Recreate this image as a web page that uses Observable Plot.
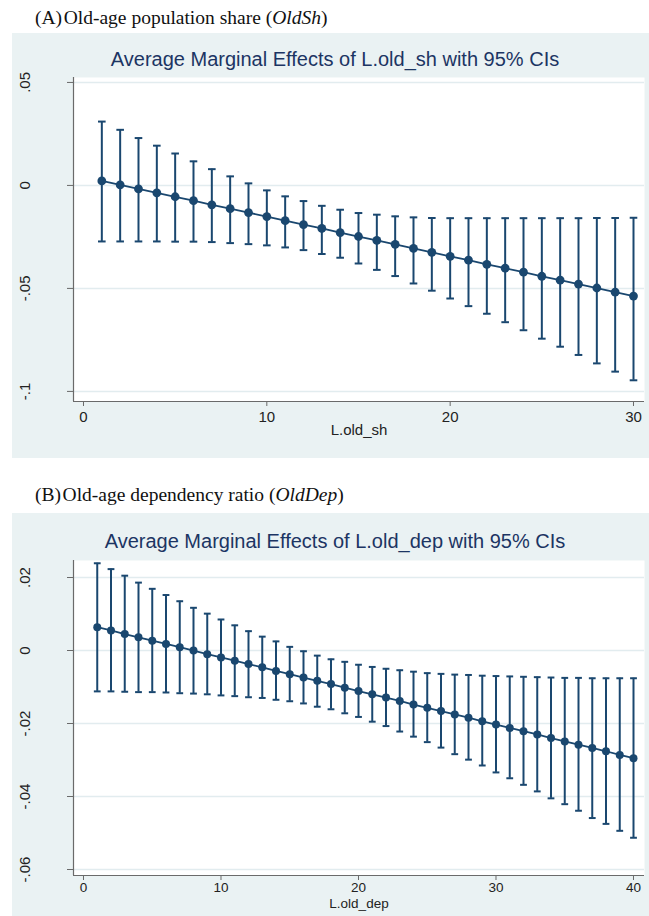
<!DOCTYPE html>
<html>
<head>
<meta charset="utf-8">
<script src="https://cdn.jsdelivr.net/npm/d3@7"></script>
<script src="https://cdn.jsdelivr.net/npm/@observablehq/plot@0.6"></script>
<style>
  html, body { margin: 0; padding: 0; background: #ffffff; }
  #page { position: relative; width: 649px; height: 916px; overflow: hidden; background: #ffffff; }
  .heading { position: absolute; font-family: "Liberation Serif", "Times New Roman", serif; font-size: 19.5px; line-height: 22px; color: #111; white-space: nowrap; }
  .panel { position: absolute; left: 12px; width: 637px; background: #eaf2f3; }
  .ptitle { position: absolute; left: 0; width: 646px; text-align: center; font-family: "Liberation Sans", Arial, sans-serif; font-size: 20px; line-height: 23px; color: #1c3563; white-space: nowrap; }
  .panel svg { position: absolute; left: 0; top: 0; }
</style>
</head>
<body>
<div id="page">
  <div class="heading" style="left:35px; top:7px;">(A)&#8202;Old-age population share (<i>OldSh</i>)</div>
  <div class="panel" id="panelA" style="top:33px; height:425px;">
    <div class="ptitle" style="top:15px;">Average Marginal Effects of L.old_sh with 95% CIs</div>
  </div>
  <div class="heading" style="left:35px; top:484px;">(B)&#8202;Old-age dependency ratio (<i>OldDep</i>)</div>
  <div class="panel" id="panelB" style="top:513px; height:403px;">
    <div class="ptitle" style="top:17px;">Average Marginal Effects of L.old_dep with 95% CIs</div>
  </div>
</div>
<script>
// ---------- Panel A data: L.old_sh ----------
const xA = [1,2,3,4,5,6,7,8,9,10,11,12,13,14,15,16,17,18,19,20,21,22,23,24,25,26,27,28,29,30];
const estA = [0.0022,0.0003,-0.0017,-0.0036,-0.0055,-0.0074,-0.0094,-0.0113,-0.0132,-0.0151,-0.0171,-0.0190,-0.0209,-0.0229,-0.0248,-0.0267,-0.0286,-0.0306,-0.0325,-0.0344,-0.0363,-0.0383,-0.0402,-0.0421,-0.0441,-0.0460,-0.0479,-0.0498,-0.0518,-0.0537];
const hiA = [0.0310,0.0270,0.0230,0.0193,0.0155,0.0117,0.0079,0.0044,0.0010,-0.0024,-0.0053,-0.0076,-0.0099,-0.0118,-0.0134,-0.0142,-0.0150,-0.0155,-0.0158,-0.0159,-0.0159,-0.0159,-0.0159,-0.0159,-0.0159,-0.0159,-0.0159,-0.0158,-0.0158,-0.0157];
const loA = [-0.0272,-0.0272,-0.0272,-0.0272,-0.0273,-0.0273,-0.0275,-0.0280,-0.0285,-0.0291,-0.0301,-0.0314,-0.0333,-0.0351,-0.0379,-0.0410,-0.0440,-0.0476,-0.0511,-0.0549,-0.0586,-0.0623,-0.0664,-0.0703,-0.0744,-0.0783,-0.0823,-0.0864,-0.0904,-0.0946];
const xTicksA = [0, 10, 20, 30];
const yTicksA = [0.05, 0, -0.05, -0.1];
const yTickLabelsA = [".05", "0", "-.05", "-.1"];
const xLabelA = "L.old_sh";

// ---------- Panel B data: L.old_dep ----------
const xB = [1,2,3,4,5,6,7,8,9,10,11,12,13,14,15,16,17,18,19,20,21,22,23,24,25,26,27,28,29,30,31,32,33,34,35,36,37,38,39,40];
const estB = [0.0064,0.0055,0.0045,0.0036,0.0027,0.0018,0.0009,0.0000,-0.0010,-0.0019,-0.0028,-0.0037,-0.0046,-0.0056,-0.0065,-0.0074,-0.0083,-0.0092,-0.0102,-0.0111,-0.0120,-0.0129,-0.0138,-0.0148,-0.0157,-0.0166,-0.0175,-0.0184,-0.0194,-0.0203,-0.0212,-0.0221,-0.0230,-0.0240,-0.0249,-0.0258,-0.0267,-0.0276,-0.0286,-0.0295];
const hiB = [0.0239,0.0223,0.0205,0.0186,0.0169,0.0152,0.0135,0.0117,0.0101,0.0085,0.0069,0.0053,0.0038,0.0025,0.0010,-0.0002,-0.0014,-0.0024,-0.0031,-0.0039,-0.0045,-0.0050,-0.0054,-0.0058,-0.0062,-0.0064,-0.0066,-0.0067,-0.0069,-0.0070,-0.0071,-0.0072,-0.0073,-0.0074,-0.0075,-0.0075,-0.0076,-0.0076,-0.0076,-0.0076];
const loB = [-0.0112,-0.0112,-0.0113,-0.0114,-0.0114,-0.0115,-0.0117,-0.0118,-0.0120,-0.0123,-0.0125,-0.0128,-0.0130,-0.0135,-0.0139,-0.0145,-0.0154,-0.0161,-0.0172,-0.0182,-0.0195,-0.0207,-0.0222,-0.0236,-0.0251,-0.0266,-0.0284,-0.0299,-0.0315,-0.0334,-0.0350,-0.0368,-0.0386,-0.0405,-0.0421,-0.0439,-0.0459,-0.0475,-0.0494,-0.0513];
const xTicksB = [0, 10, 20, 30, 40];
const yTicksB = [0.02, 0, -0.02, -0.04, -0.06];
const yTickLabelsB = [".02", "0", "-.02", "-.04", "-.06"];
const xLabelB = "L.old_dep";

const NAVY = "#1a476f";
const AXIS = "#6a6a6a";
const GRID = "#e2ecef";

// horizontal cap symbol for error bars
const capSymbol = {
  draw(ctx, size) {
    const w = Math.sqrt(size / Math.PI);
    ctx.moveTo(-w, 0);
    ctx.lineTo(w, 0);
  }
};

function makePanel(cfg) {
  const data = cfg.x.map((x, i) => ({x, est: cfg.est[i], hi: cfg.hi[i], lo: cfg.lo[i]}));
  const yLab = cfg.yTicks.map((v, i) => ({v, t: cfg.yLabels[i]}));
  return Plot.plot({
    width: cfg.width,
    height: cfg.height,
    marginLeft: cfg.ml,
    marginRight: cfg.mr,
    marginTop: cfg.mt,
    marginBottom: cfg.mb,
    style: {background: "transparent", fontFamily: "'Liberation Sans', Arial, sans-serif", fontSize: "15px", color: "#222"},
    x: {domain: cfg.xDomain, axis: null},
    y: {domain: cfg.yDomain, axis: null},
    marks: [
      Plot.frame({fill: "#ffffff", stroke: null}),
      Plot.ruleY(cfg.yTicks, {stroke: GRID, strokeWidth: 1.5}),
      Plot.axisX({ticks: cfg.xTicks, tickSize: 5, tickPadding: cfg.tickPad, stroke: AXIS, fill: "#222", label: null, fontSize: cfg.xFont}),
      Plot.axisY({ticks: cfg.yTicks, tickSize: 6, tickFormat: () => "", stroke: AXIS, label: null}),
      Plot.text(yLab, {x: cfg.xDomain[0], y: "v", text: "t", rotate: -90, dx: -48, fontSize: 15, fill: "#222"}),
      Plot.text([cfg.xLabel], {frameAnchor: "bottom", dy: cfg.labelDy, text: d => d, fontSize: cfg.labelFont, fill: "#222"}),
      Plot.ruleX([cfg.xDomain[0]], {stroke: AXIS, strokeWidth: 1.2}),
      Plot.ruleY([cfg.yDomain[0]], {stroke: AXIS, strokeWidth: 1.2}),
      Plot.ruleX(data, {x: "x", y1: "lo", y2: "hi", stroke: NAVY, strokeWidth: 2}),
      Plot.dot(data, {x: "x", y: "hi", symbol: capSymbol, r: cfg.cap, stroke: NAVY, strokeWidth: 2}),
      Plot.dot(data, {x: "x", y: "lo", symbol: capSymbol, r: cfg.cap, stroke: NAVY, strokeWidth: 2}),
      Plot.line(data, {x: "x", y: "est", stroke: NAVY, strokeWidth: 1.8}),
      Plot.dot(data, {x: "x", y: "est", r: cfg.r, fill: NAVY, stroke: null})
    ]
  });
}

const chartA = makePanel({
  x: xA, est: estA, hi: hiA, lo: loA,
  xTicks: xTicksA, yTicks: yTicksA, yLabels: yTickLabelsA, xLabel: xLabelA,
  width: 637, height: 425, ml: 61, mr: 5, mt: 44, mb: 57,
  xDomain: [-0.545, 30.6], yDomain: [-0.1049, 0.0524],
  cap: 3.8, r: 4.4, labelDy: 33, tickPad: 5, xFont: 15, labelFont: 15
});
document.getElementById("panelA").appendChild(chartA);

const chartB = makePanel({
  x: xB, est: estB, hi: hiB, lo: loB,
  xTicks: xTicksB, yTicks: yTicksB, yLabels: yTickLabelsB, xLabel: xLabelB,
  width: 637, height: 403, ml: 61, mr: 5, mt: 47, mb: 41,
  xDomain: [-0.727, 40.8], yDomain: [-0.06164, 0.02466],
  cap: 3.4, r: 4.0, labelDy: 32.5, tickPad: 2, xFont: 13.5, labelFont: 13.5
});
document.getElementById("panelB").appendChild(chartB);
</script>
</body>
</html>
